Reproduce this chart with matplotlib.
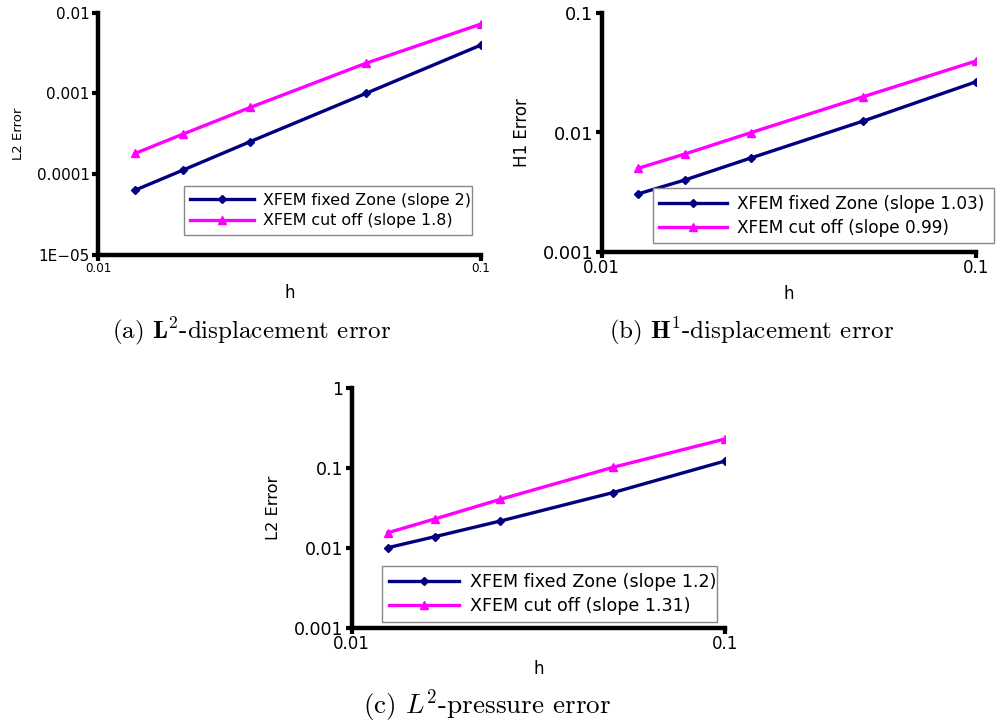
import matplotlib
matplotlib.use("Agg")
import matplotlib.pyplot as plt

plt.rcParams['mathtext.fontset'] = 'cm'

h = [0.1, 0.05, 0.025, 1/60, 0.0125]

l2_fixed = [0.00398, 0.001, 0.000254, 0.0001125, 6.35e-5]
l2_cut = [0.00724, 0.00236, 0.000673, 0.000314, 0.000181]

h1_fixed = [0.0265, 0.01247, 0.00612, 0.00401, 0.00307]
h1_cut = [0.0395, 0.0199, 0.00996, 0.00661, 0.00502]

p_fixed = [0.1227, 0.0492, 0.0217, 0.0138, 0.01006]
p_cut = [0.2317, 0.102, 0.0406, 0.023, 0.0155]

labels_a = ["XFEM fixed Zone (slope 2)", "XFEM cut off (slope 1.8)"]
labels_b = ["XFEM fixed Zone (slope 1.03)", "XFEM cut off (slope 0.99)"]
labels_c = ["XFEM fixed Zone (slope 1.2)", "XFEM cut off (slope 1.31)"]

yt_a = [1e-5, 1e-4, 1e-3, 1e-2]
ytl_a = ["1E\u221205", "0.0001", "0.001", "0.01"]
yt_b = [1e-3, 1e-2, 1e-1]
ytl_b = ["0.001", "0.01", "0.1"]
yt_c = [1e-3, 1e-2, 1e-1, 1]
ytl_c = ["0.001", "0.01", "0.1", "1"]
xt = [0.01, 0.1]
xtl = ["0.01", "0.1"]

captions = [r"(a) $\mathbf{L}^2$-displacement error",
            r"(b) $\mathbf{H}^1$-displacement error",
            r"(c) $L^2$-pressure error"]

W, H = 997, 724
fig = plt.figure(figsize=(W/100, H/100), dpi=100)

NAVY = "#000080"
MAG = "#FF00FF"


def make_ax(l, r, t, b):
    return fig.add_axes([l/W, 1 - b/H, (r-l)/W, (b-t)/H])


def style(ax, ylim, yt, ytl, ylabel, ysize, xsize, ylabsize, leg_labels, leg_box, fixed, cut, legsize):
    ax.set_xscale('log')
    ax.set_yscale('log')
    ax.plot(h, fixed, color=NAVY, lw=2.4, marker='D', ms=4.5, label=leg_labels[0])
    ax.plot(h, cut, color=MAG, lw=2.4, marker='^', ms=6, label=leg_labels[1])
    ax.set_xlim(0.01, 0.1)
    ax.set_ylim(*ylim)
    for s in ['top', 'right']:
        ax.spines[s].set_visible(False)
    for s in ['left', 'bottom']:
        ax.spines[s].set_linewidth(3.2)
        ax.spines[s].set_capstyle('projecting')
    ax.yaxis.set_major_locator(matplotlib.ticker.FixedLocator(yt))
    ax.yaxis.set_major_formatter(matplotlib.ticker.FixedFormatter(ytl))
    ax.xaxis.set_major_locator(matplotlib.ticker.FixedLocator(xt))
    ax.xaxis.set_major_formatter(matplotlib.ticker.FixedFormatter(xtl))
    ax.yaxis.set_minor_locator(matplotlib.ticker.NullLocator())
    ax.xaxis.set_minor_locator(matplotlib.ticker.NullLocator())
    ax.tick_params(axis='y', length=4, width=3, labelsize=ysize, pad=2)
    ax.tick_params(axis='x', length=4, width=3, labelsize=xsize, pad=1)
    ax.set_ylabel(ylabel, fontsize=ylabsize)
    ax.set_xlabel("h", fontsize=12)
    l, t, r, b = leg_box
    leg = ax.legend(loc='center left', bbox_to_anchor=(l/W, 1 - b/H, (r-l)/W, (b-t)/H),
                    bbox_transform=fig.transFigure, mode='expand', fontsize=legsize,
                    frameon=True, fancybox=False, edgecolor='#888888', numpoints=1,
                    handlelength=4.0, borderaxespad=0, borderpad=0.4, labelspacing=0.35,
                    handletextpad=0.6, framealpha=1)
    leg.get_frame().set_linewidth(1.0)
    return ax


ax_a = make_ax(98, 481, 12.7, 255)
style(ax_a, (1e-5, 1e-2), yt_a, ytl_a, "L2 Error", 11, 8.6, 9.5,
      labels_a, (184, 186, 472, 235), l2_fixed, l2_cut, 11.4)
ax_a.yaxis.set_label_coords(-0.19, 0.5)
ax_a.xaxis.set_label_coords(0.5, -0.12)

ax_b = make_ax(601.7, 976, 12.7, 252.3)
style(ax_b, (1e-3, 1e-1), yt_b, ytl_b, "H1 Error", 12.8, 12, 12,
      labels_b, (652.7, 192.3, 994, 239), h1_fixed, h1_cut, 12.2)
ax_b.yaxis.set_label_coords(-0.19, 0.5)
ax_b.xaxis.set_label_coords(0.5, -0.135)

ax_c = make_ax(351.7, 725, 388.3, 627.7)
style(ax_c, (1e-3, 1), yt_c, ytl_c, "L2 Error", 12.5, 12, 11.7,
      labels_c, (382.3, 570.7, 716.7, 617.3), p_fixed, p_cut, 12.6)
ax_c.yaxis.set_label_coords(-0.19, 0.5)
ax_c.xaxis.set_label_coords(0.5, -0.135)

cap_kw = dict(ha='center', va='center', family='cmr10')
fig.text(252/W, 1 - 331/H, captions[0], fontsize=18, **cap_kw)
fig.text(752/W, 1 - 331/H, captions[1], fontsize=18, **cap_kw)
fig.text(487/W, 1 - 706/H, captions[2], fontsize=19.5, **cap_kw)

fig.savefig("out.png", dpi=100)
